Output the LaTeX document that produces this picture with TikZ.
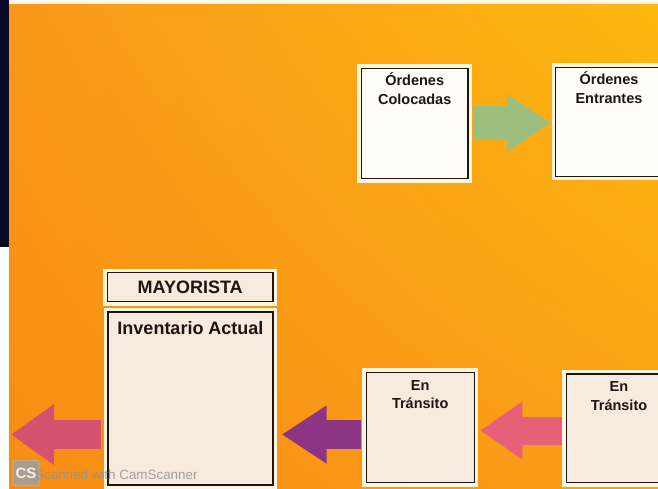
\documentclass[tikz,border=0pt]{standalone}
\usepackage{fontspec}
\setmainfont{Liberation Sans}
\usetikzlibrary{arrows.meta,positioning,shadings}

\definecolor{boardUL}{HTML}{F9981A}
\definecolor{boardUR}{HTML}{FDB80E}
\definecolor{boardLL}{HTML}{F88D14}
\definecolor{boardLR}{HTML}{FA9E16}
\definecolor{scanedge}{HTML}{0B0B26}
\definecolor{inkline}{HTML}{1E1414}
\definecolor{paperhi}{HTML}{FFFDF6}
\definecolor{paperlo}{HTML}{F7EADF}
\definecolor{paperedge}{HTML}{FFF4DC}
\definecolor{arrowgreen}{HTML}{9CBE7E}
\definecolor{arrowpink}{HTML}{D65070}
\definecolor{arrowrose}{HTML}{E6607A}
\definecolor{arrowpurple}{HTML}{8C3584}

\begin{document}
\begin{tikzpicture}[
  x=1pt, y=-1pt,
  % Card styles
  card/.style={
    draw=inkline, line width=1.3pt, fill=#1, inner sep=0pt,
    preaction={draw=paperedge, line width=8.5pt}
  },
  cardtext/.style={
    font=\bfseries\fontsize{14.5}{18.5}\selectfont, text=inkline,
    align=center, inner sep=0pt
  },
  bigarrow/.style={line width=29pt, -{Triangle[length=43pt, width=56pt]}},
  watermark/.style={text=gray!85, opacity=0.85, inner sep=0pt}
]
\useasboundingbox (0,0) rectangle (658,489);
\clip (0,0) rectangle (658,489);

% ── Board ────────────────────────────────────────────────────────────────────
\shade[upper left=boardUL, upper right=boardUR,
       lower left=boardLL, lower right=boardLR] (9,0) rectangle (658,489);
\fill[paperedge!70!white] (9,0) rectangle (658,4);
\fill[scanedge] (0,0) rectangle (9,247);
\fill[white] (0,247) rectangle (9,489);

% ── Upper row: orders ────────────────────────────────────────────────────────
\node[card=paperhi, minimum width=106.5pt, minimum height=110pt]
  (colocadas) at (414.7,123.3) {};
\node[cardtext, below=5pt of colocadas.north] (colocadastxt) {Órdenes\\Colocadas};

\node[card=paperhi, minimum width=106.5pt, minimum height=109pt]
  (entrantes) at (609,121.7) {};
\node[cardtext, below=5pt of entrantes.north] (entrantestxt) {Órdenes\\Entrantes};

% ── Wholesaler ───────────────────────────────────────────────────────────────
\node[card=paperlo, minimum width=165.5pt, minimum height=29pt,
      font=\bfseries\fontsize{18}{20}\selectfont, text=inkline]
  (mayorista) at (190.2,287.3) {MAYORISTA};

\node[card=paperlo, minimum width=165pt, minimum height=173pt]
  (inventario) at (190.5,398.5) {};
\node[cardtext, font=\bfseries\fontsize{18}{20}\selectfont,
      below=10pt of inventario.north] (inventariotxt) {Inventario Actual};

% ── Lower row: in transit ────────────────────────────────────────────────────
\node[card=paperlo, minimum width=108pt, minimum height=110pt]
  (transito1) at (420.2,427.3) {};
\node[cardtext, below=8.5pt of transito1.north] (transito1txt) {En\\Tránsito};

\node[card=paperlo, minimum width=105pt, minimum height=108.3pt]
  (transito2) at (619,428.2) {};
\node[cardtext, below=8pt of transito2.north] (transito2txt) {En\\Tránsito};

\coordinate (lefttip) at (11,434.5);

% ── Flow arrows ──────────────────────────────────────────────────────────────
\draw[bigarrow, draw=arrowgreen, line width=33pt,
      -{Triangle[length=44pt, width=55pt]}]
  ([xshift=4pt, yshift=0.3pt]colocadas.east) -- ([xshift=-4.3pt, yshift=-1.3pt]entrantes.west);
\draw[bigarrow, draw=arrowrose, line width=28pt,
      -{Triangle[length=42pt, width=55pt]}]
  ([xshift=-4pt, yshift=-2.3pt]transito2.west) -- ([xshift=5.4pt, yshift=-3.2pt]transito1.east);
\draw[bigarrow, draw=arrowpurple, -{Triangle[length=45pt, width=55pt]}]
  ([xshift=-5pt, yshift=-7.2pt]transito1.west) -- ([xshift=8pt, yshift=-36pt]inventario.east);
\draw[bigarrow, draw=arrowpink, -{Triangle[length=43pt, width=58pt]}]
  ([xshift=-6.5pt, yshift=-36pt]inventario.west) -- (lefttip);

% ── Scanner watermark ────────────────────────────────────────────────────────
\node[draw=gray!60, line width=1pt, fill=gray!75, rounded corners=2pt,
      minimum width=26pt, minimum height=25pt, opacity=0.85,
      font=\bfseries\fontsize{15}{15}\selectfont, text=white, inner sep=0pt]
  (cslogo) at (26,473) {CS};
\node[watermark, font=\fontsize{13.4}{14}\selectfont, anchor=west]
  (cstext) at (35,474.5) {Scanned with CamScanner};

\end{tikzpicture}
\end{document}
